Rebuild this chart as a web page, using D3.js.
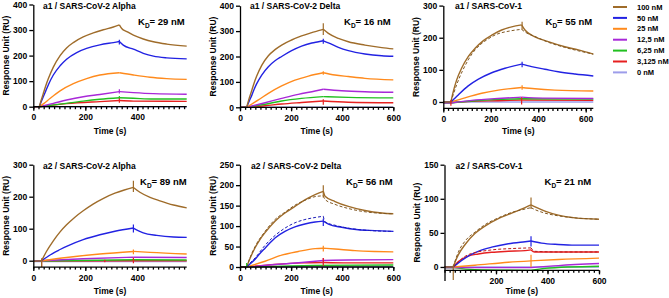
<!DOCTYPE html>
<html>
<head>
<meta charset="utf-8">
<script src="https://cdn.jsdelivr.net/npm/d3@7"></script>
<style>
  body { margin: 0; background: #fff; }
  svg { display: block; font-family: "Liberation Sans", Arial, sans-serif; font-weight: bold; }
</style>
</head>
<body>
<svg id="chart" width="669" height="298"></svg>
<script>
// ---------- categories ----------
const concentrations = ["100 nM", "50 nM", "25 nM", "12,5 nM", "6,25 nM", "3,125 nM", "0 nM"];
const seriesColors = ["#9f6c2a", "#2222e2", "#ff8a1c", "#a828d8", "#22c020", "#e62020", "#9d9dea"];
const panelTitles = ["a1 / SARS-CoV-2 Alpha", "a1 / SARS-CoV-2 Delta", "a1 / SARS-CoV-1",
                     "a2 / SARS-CoV-2 Alpha", "a2 / SARS-CoV-2 Delta", "a2 / SARS-CoV-1"];
const kdValues = ["29", "16", "55", "89", "56", "21"];
const xTickValues = [[0, 200, 400], [0, 200, 400, 600], [0, 200, 400, 600],
                     [0, 200, 400], [0, 200, 400, 600], [200, 400, 600]];
const yTickValues = [[0, 100, 200, 300, 400], [0, 100, 200, 300, 400], [0, 100, 200, 300],
                     [0, 100, 200, 300], [0, 50, 100, 150, 200, 250], [0, 50, 100, 150]];

// injection start / stop (s) per panel
const injections = [[23, 331], [26, 326], [32, 330], [32, 385], [26, 326], [34, 336]];

// ---------- sensorgrams [time s, RU], order = concentrations ----------
const a1Alpha = [
  [[0,0],[23,0],[30,24],[38,50],[48,82],[58,110],[77,155],[103,200],[128,230],[154,251],[192,273],[231,289],[269,301],[308,312],[331,320],[340,306],[360,294],[385,280],[423,265],[462,254],[513,245],[590,237]],
  [[0,0],[23,0],[30,18],[38,38],[48,62],[58,86],[77,124],[103,160],[128,186],[167,212],[205,228],[256,242],[308,251],[331,255],[346,241],[385,225],[423,209],[462,198],[513,191],[590,187]],
  [[0,0],[23,0],[40,12],[64,32],[103,62],[154,90],[205,110],[256,124],[331,133],[385,124],[449,115],[513,110],[590,107]],
  [[0,0],[23,0],[77,13],[128,26],[192,39],[256,48],[331,59],[385,55],[462,51],[590,49]],
  [[0,0],[23,0],[103,10],[192,22],[256,29],[331,35],[385,33],[462,30],[590,30]],
  [[0,0],[23,0],[128,12],[256,20],[331,24],[385,22],[590,21]],
  [[0,0],[590,0]]
];
const a1Delta = [
  [[0,0],[26,0],[35,32],[46,66],[55,95],[65,122],[85,165],[111,203],[137,227],[163,245],[202,265],[241,281],[281,294],[307,302],[326,307],[346,291],[385,271],[424,258],[489,245],[555,235],[600,230]],
  [[0,0],[26,0],[35,22],[46,47],[55,70],[65,92],[85,127],[111,160],[137,183],[163,200],[202,223],[241,241],[281,253],[307,258],[326,262],[346,254],[385,236],[424,223],[489,210],[555,203],[600,201]],
  [[0,0],[26,0],[45,12],[72,29],[111,55],[163,84],[215,107],[268,123],[326,136],[372,127],[424,121],[489,114],[600,108]],
  [[0,0],[26,0],[98,18],[163,35],[228,51],[294,64],[326,71],[398,65],[489,61],[600,59]],
  [[0,0],[26,0],[98,12],[163,25],[241,35],[326,42],[424,39],[600,37]],
  [[0,0],[26,0],[98,6],[163,13],[241,19],[326,25],[424,20],[600,18]],
  [[0,0],[600,0]]
];
const a1Cov1 = [
  [[0,0],[32,0],[42,32],[56,68],[77,105],[105,141],[134,167],[169,191],[204,208],[246,224],[288,234],[330,240],[344,224],[386,203],[442,188],[512,172],[569,162],[632,149]],
  [[0,0],[32,0],[45,9],[63,22],[105,50],[148,71],[204,91],[260,105],[330,118],[372,110],[428,102],[484,94],[555,87],[632,81]],
  [[0,0],[32,0],[91,13],[162,27],[232,37],[330,45],[386,41],[470,37],[632,34]],
  [[0,-3],[32,-3],[120,5],[230,11],[330,15],[420,12],[632,11]],
  [[0,-3],[32,-3],[120,3],[230,8],[330,10],[632,9]],
  [[0,-2],[32,-2],[120,2],[230,4],[330,6],[632,5]],
  [[0,0],[632,0]]
];
const a2Alpha = [
  [[0,-2],[32,0],[50,28],[77,62],[103,90],[128,112],[160,136],[192,156],[230,177],[270,195],[314,211],[350,221],[385,229],[410,214],[449,198],[487,187],[539,174],[590,165]],
  [[0,-2],[32,0],[50,10],[77,24],[103,35],[128,45],[192,66],[256,81],[314,92],[385,102],[423,87],[475,79],[539,74],[590,73]],
  [[0,-2],[32,0],[128,10],[256,21],[385,29],[449,26],[590,21]],
  [[0,-2],[32,0],[192,6],[385,11],[590,10]],
  [[0,-2],[32,-1],[385,3],[590,2]],
  [[0,-2],[32,-1],[385,0],[590,0]],
  [[0,-3],[590,-3]]
];
const a2Delta = [
  [[0,0],[26,0],[40,22],[59,47],[78,67],[98,84],[137,112],[176,132],[215,148],[254,164],[294,177],[326,185],[333,173],[372,160],[424,148],[489,138],[555,132],[600,130]],
  [[0,0],[26,0],[40,8],[59,19],[78,33],[98,46],[137,71],[176,87],[215,98],[254,105],[294,110],[326,112],[346,105],[398,97],[463,91],[528,89],[600,87]],
  [[0,0],[26,0],[98,14],[163,29],[228,38],[294,45],[326,46],[372,44],[450,40],[528,38],[600,37]],
  [[0,0],[26,0],[137,6],[241,11],[326,16],[424,17],[600,18]],
  [[0,0],[26,0],[294,4],[600,5]],
  [[0,0],[26,0],[137,6],[241,10],[326,11],[424,10],[600,10]],
  [[0,0],[600,0]]
];
const a2Cov1 = [
  [[0,0],[34,0],[44,10],[54,18],[80,33],[118,49],[157,60],[209,71],[261,79],[313,87],[336,91],[352,88],[390,82],[442,76],[507,72],[600,70]],
  [[0,0],[34,0],[54,6],[92,16],[131,23],[183,29],[248,34],[313,37],[336,38],[377,35],[442,33],[507,32],[600,32]],
  [[0,0],[34,0],[118,2.5],[248,7],[336,9],[442,11],[600,13]],
  [[0,-1],[34,-1],[336,-1],[442,2],[600,5]],
  [[0,-1],[34,-1],[118,-4],[336,-5],[390,-2],[600,1]],
  [[0,0],[34,0],[54,8],[92,16],[131,19],[183,21.5],[248,23],[313,24],[336,25],[350,22],[442,22],[600,22]],
  [[0,0],[600,0]]
];

// ---------- model fits (dashed) [series index, points] ----------
const a1Cov1Fit = [
  [0, [[32,0],[56,53],[105,131],[204,203],[288,222],[330,226],[344,218],[386,204],[442,186],[512,170],[632,149]]]
];
const a2DeltaFit = [
  [0, [[26,0],[40,24],[59,50],[98,87],[137,116],[176,134],[215,151],[254,163],[294,172],[326,174],[333,165],[372,153],[424,143],[489,135],[600,130]]],
  [1, [[26,0],[40,10],[59,22],[98,53],[137,77],[176,95],[215,108],[254,116],[294,121],[326,124],[333,110],[372,102],[424,95],[489,90],[600,87]]]
];
const a2Cov1Fit = [
  [0, [[34,0],[44,12],[54,22],[80,38],[118,51],[157,62],[209,72],[261,80],[313,85],[336,87],[352,84],[390,79],[442,75],[507,72],[600,70]]],
  [5, [[34,0],[92,18],[183,25],[261,27],[336,28],[350,23],[442,22],[600,22]]]
];

// ---------- injection artefacts [series index, time, low RU, high RU] ----------
const a1AlphaSpikes = [[1,331,243,262],[3,331,52,68],[4,331,30,42],[5,331,15,32]];
const a1DeltaSpikes = [[0,326,285,331],[1,326,250,270],[2,326,128,142],[5,326,10,32]];
const a1Cov1Spikes  = [[0,332,225,250],[1,332,108,125],[2,332,38,52],[5,330,-8,15],[5,32,-12,6]];
const a2AlphaSpikes = [[0,385,215,250],[1,385,88,113],[2,385,20,35],[5,385,-8,10],[5,32,-20,5],[0,32,-20,8],[5,275,-5,3]];
const a2DeltaSpikes = [[0,326,170,200],[1,326,100,118],[2,326,38,52],[3,326,8,22],[5,326,3,22],[4,26,0,10]];
const a2Cov1Spikes  = [[0,336,85,102],[1,336,30,45],[2,336,0,18],[0,34,-19,2]];

// ---------- layout ----------
const layouts = [
  { data: a1Alpha, fit: [], spikes: a1AlphaSpikes, xDomain: [0, 590], yDomain: [0, 400], xRange: [33.3, 186.7], yRange: [106.7, 4.5], top: 0 },
  { data: a1Delta, fit: [], spikes: a1DeltaSpikes, xDomain: [0, 600], yDomain: [0, 400], xRange: [240, 393.3], yRange: [107.3, 5.7], top: 0 },
  { data: a1Cov1, fit: a1Cov1Fit, spikes: a1Cov1Spikes, xDomain: [0, 632], yDomain: [-20, 300], xRange: [443.3, 593.3], yRange: [108.4, 5.6], top: 0 },
  { data: a2Alpha, fit: [], spikes: a2AlphaSpikes, xDomain: [0, 590], yDomain: [-20, 300], xRange: [33.3, 186.7], yRange: [267.1, 164.7], top: 160 },
  { data: a2Delta, fit: a2DeltaFit, spikes: a2DeltaSpikes, xDomain: [0, 600], yDomain: [0, 250], xRange: [240, 393.3], yRange: [267, 164.7], top: 160 },
  { data: a2Cov1, fit: a2Cov1Fit, spikes: a2Cov1Spikes, xDomain: [0, 600], yDomain: [-20, 150], xRange: [444.5, 599], yRange: [280.6, 164.7], top: 160, xAxisAt: -5 }
];
const titleX = [43, 250, 455, 43, 251, 455.5];
const kdX = [138, 344, 545.5, 140, 346, 544.5];

const svg = d3.select("#chart");

// break a sensorgram into baseline / association / dissociation pieces
function phases(points, inj) {
  const segs = [];
  let cur = [points[0]];
  for (let i = 1; i < points.length; i++) {
    const p = points[i];
    cur.push(p);
    if ((p[0] === inj[0] || p[0] === inj[1]) && i < points.length - 1) {
      segs.push(cur);
      cur = [p];
    }
  }
  if (cur.length > 1) segs.push(cur);
  return segs;
}

layouts.forEach((L, i) => {
  const x = d3.scaleLinear().domain(L.xDomain).range(L.xRange);
  const y = d3.scaleLinear().domain(L.yDomain).range(L.yRange);
  const line = d3.line().x(d => x(d[0])).y(d => y(d[1])).curve(d3.curveMonotoneX);
  const g = svg.append("g");

  // data curves, 0 nM first so 100 nM sits on top
  for (let s = L.data.length - 1; s >= 0; s--) {
    phases(L.data[s], injections[i]).forEach(seg => {
      g.append("path")
        .attr("d", line(seg))
        .attr("fill", "none")
        .attr("stroke", seriesColors[s])
        .attr("stroke-width", 1.4);
    });
  }

  // fits
  L.fit.forEach(([s, pts]) => {
    phases(pts, injections[i]).forEach(seg => {
      g.append("path")
        .attr("d", line(seg))
        .attr("fill", "none")
        .attr("stroke", d3.color(seriesColors[s]).darker(0.6))
        .attr("stroke-width", 1)
        .attr("stroke-dasharray", "3,2");
    });
  });

  // artefacts
  g.selectAll("line.spike")
    .data(L.spikes)
    .enter().append("line")
    .attr("class", "spike")
    .attr("x1", d => x(d[1])).attr("x2", d => x(d[1]))
    .attr("y1", d => y(d[2])).attr("y2", d => y(d[3]))
    .attr("stroke", d => seriesColors[d[0]])
    .attr("stroke-width", 1.2);

  // axes
  const xAxisY = y(L.xAxisAt !== undefined ? L.xAxisAt : L.yDomain[0]);
  const minor = g.append("g")
    .attr("transform", `translate(0,${xAxisY})`)
    .call(d3.axisBottom(x).tickValues(d3.range(0, L.xDomain[1] + 1, 20)).tickSize(2.5).tickSizeOuter(0).tickFormat(""));
  minor.select(".domain").remove();

  const gx = g.append("g")
    .attr("transform", `translate(0,${xAxisY})`)
    .call(d3.axisBottom(x).tickValues(xTickValues[i]).tickSize(4).tickSizeOuter(0).tickPadding(3.5));
  gx.select(".domain").attr("d", `M${L.xRange[0]},0H${L.xRange[1]}`);

  const gy = g.append("g")
    .attr("transform", `translate(${L.xRange[0]},0)`)
    .call(d3.axisLeft(y).tickValues(yTickValues[i]).tickSize(4).tickSizeOuter(0).tickPadding(2));

  [minor, gx, gy].forEach(a => {
    a.selectAll("path, line").attr("stroke", "#000").attr("stroke-width", 1.3);
    a.selectAll("text").attr("font-size", 8.5).attr("font-weight", "bold")
      .attr("font-family", "Liberation Sans, Arial, sans-serif").attr("fill", "#000");
  });

  // axis titles
  g.append("text")
    .attr("transform", `translate(${L.xRange[0] - 27},${(L.yRange[0] + L.yRange[1]) / 2}) rotate(-90)`)
    .attr("text-anchor", "middle")
    .attr("dy", "0.35em")
    .attr("font-size", 8.5)
    .text("Response Unit (RU)");

  g.append("text")
    .attr("x", (L.xRange[0] + L.xRange[1]) / 2)
    .attr("y", L.top === 0 ? 134 : 294)
    .attr("text-anchor", "middle")
    .attr("font-size", 8.5)
    .text("Time (s)");

  // panel title and KD
  g.append("text")
    .attr("x", titleX[i])
    .attr("y", L.top + 9)
    .attr("font-size", 8.5)
    .text(panelTitles[i]);

  const kd = g.append("text")
    .attr("x", kdX[i])
    .attr("y", L.top + 25)
    .attr("font-size", 9.5);
  kd.append("tspan").text("K");
  kd.append("tspan").attr("font-size", 6.5).attr("dy", 2.5).text("D");
  kd.append("tspan").attr("dy", -2.5).text(`= ${kdValues[i]} nM`);
});

// legend
const legend = svg.append("g").attr("transform", "translate(613,7)");
concentrations.forEach((c, k) => {
  const row = legend.append("g").attr("transform", `translate(0,${k * 10.9})`);
  row.append("line").attr("x1", 0).attr("x2", 14).attr("y1", 0).attr("y2", 0)
    .attr("stroke", seriesColors[k]).attr("stroke-width", 2);
  row.append("text").attr("x", 24).attr("dy", "0.35em").attr("font-size", 7.5).text(c);
});
</script>
</body>
</html>
